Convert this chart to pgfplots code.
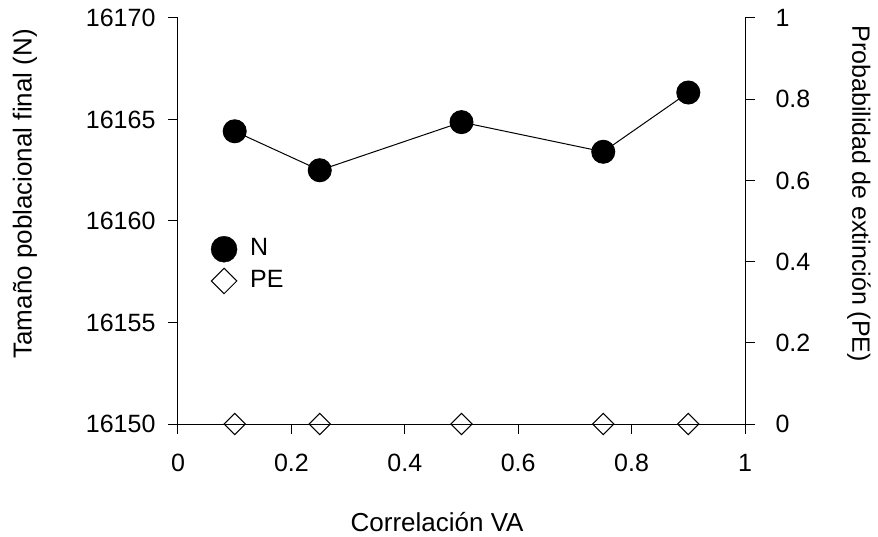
\documentclass[border=0pt]{standalone}
\usepackage{pgfplots}
\pgfplotsset{compat=1.18}
\usepackage{fontspec}
\setmainfont{Liberation Sans}
\begin{document}
\fontsize{25bp}{30bp}\selectfont
\begin{tikzpicture}
\useasboundingbox (-178bp,-113bp) rectangle (700bp,424bp);
\pgfplotsset{
  common/.style={
    scale only axis, width=567bp, height=406bp, at={(0,0)}, anchor=south west,
    xmin=0, xmax=1, clip=false,
    /pgf/number format/assume math mode=true,
    /pgf/number format/1000 sep={},
    scaled y ticks=false,
    tick label style={font=\fontsize{25bp}{30bp}\selectfont},
    label style={font=\fontsize{26bp}{30bp}\selectfont},
    major tick length=10bp,
    tick style={black, line width=1bp},
    axis line style={-, black, line width=1bp},
    tick align=outside,
  }
}
\begin{axis}[common,
  axis y line*=left, axis x line*=bottom,
  ymin=16150, ymax=16170, ytick={16150,16155,16160,16165,16170},
  xtick={0,0.2,0.4,0.6,0.8,1},
  xticklabel style={yshift=-12bp},
  yticklabel style={xshift=-4bp},
  xlabel={Correlación VA},
  xlabel style={at={(axis description cs:0.457,-0.241)}, anchor=center},
  ylabel={Tamaño poblacional final (N)},
  ylabel style={at={(axis description cs:-0.27,0.567)}, anchor=center},
  legend style={at={(axis description cs:0.058,0.463)}, anchor=north west, draw=none, fill=none,
    font=\fontsize{25bp}{30bp}\selectfont, row sep=6bp, column sep=11bp, inner sep=0pt},
  legend cell align=left,
]
\addlegendimage{only marks, mark=*, mark size=13bp, black, mark options={fill=black}}
\addlegendentry{N}
\addlegendimage{only marks, mark=square, mark size=9bp, black, mark options={fill=white, rotate=45, line width=1bp}}
\addlegendentry{PE}
\addplot[forget plot, black, line width=1bp, mark=*, mark size=11.5bp, mark options={fill=black}]
  coordinates {(0.1,16164.42) (0.25,16162.5) (0.5,16164.87) (0.75,16163.41) (0.9,16166.33)};
\end{axis}
\begin{axis}[common,
  axis y line*=right, axis x line=none,
  ymin=0, ymax=1, ytick={0,0.2,0.4,0.6,0.8,1},
  yticklabel style={xshift=12bp},
  ylabel={Probabilidad de extinción (PE)},
  every axis y label/.style={at={(axis description cs:1.201,0.567)}, anchor=center, rotate=-90},
]
\addplot[forget plot, black, line width=1bp, mark=square, mark size=7.5bp, mark options={fill=white, rotate=45}]
  coordinates {(0.1,0) (0.25,0) (0.5,0) (0.75,0) (0.9,0)};
\end{axis}
\end{tikzpicture}
\end{document}
